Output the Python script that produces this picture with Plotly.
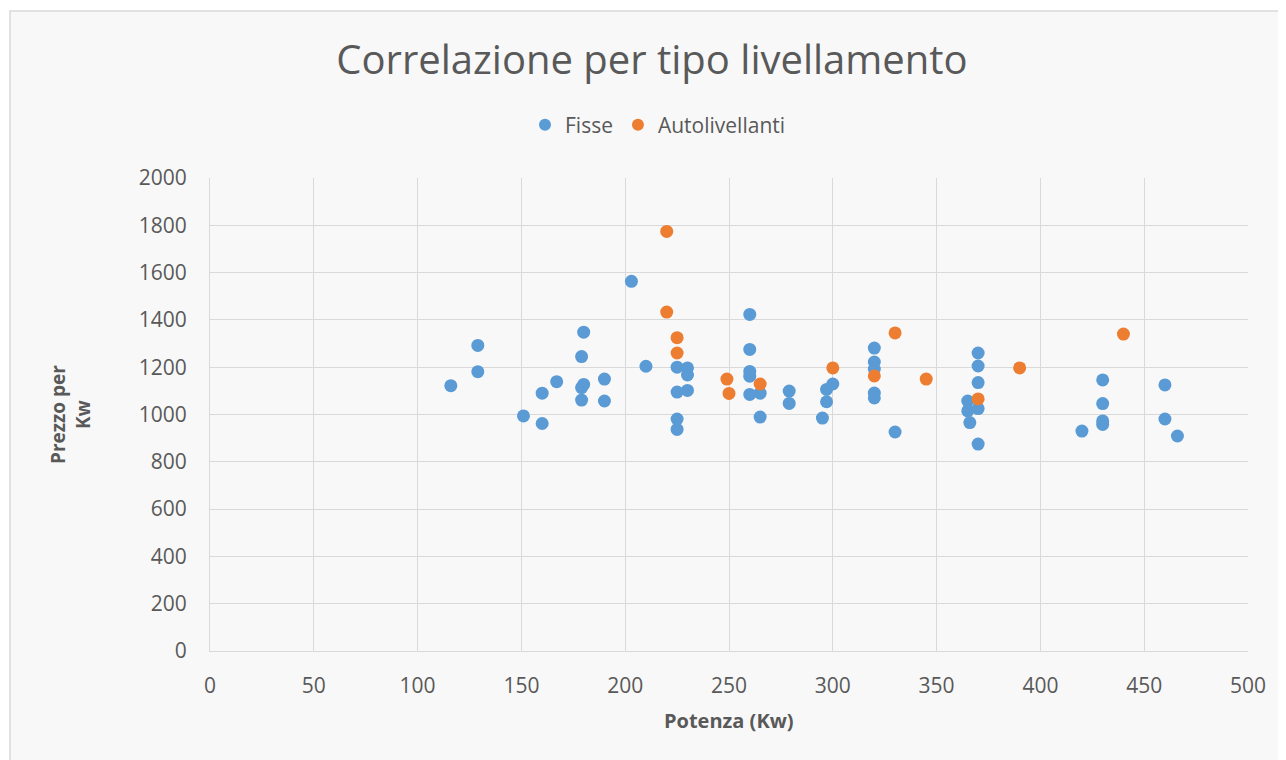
import plotly.graph_objects as go

fisse_x = [116, 129, 129, 151, 160, 160, 167, 179, 180, 179, 180, 179, 190, 190, 203, 210,
           225, 225, 225, 225, 230, 230, 230, 260, 260, 260, 260, 260, 265, 265, 279, 279,
           295, 297, 297, 300, 320, 320, 320, 320, 320, 330, 365, 365, 366, 370, 370, 370,
           370, 370, 420, 430, 430, 430, 430, 460, 460, 466]
fisse_y = [1122, 1181, 1292, 994, 962, 1090, 1139, 1245, 1348, 1114, 1127, 1061, 1150, 1057, 1563, 1204,
           1200, 1095, 981, 937, 1197, 1167, 1102, 1423, 1275, 1182, 1162, 1085, 1090, 989, 1099, 1047,
           985, 1106, 1054, 1129, 1281, 1222, 1192, 1091, 1070, 926, 1057, 1015, 966, 1260, 1205, 1135,
           1025, 875, 930, 1146, 1046, 973, 958, 1125, 981, 909]

auto_x = [220, 220, 225, 225, 249, 250, 265, 300, 320, 330, 345, 370, 390, 440]
auto_y = [1774, 1433, 1325, 1260, 1150, 1089, 1129, 1197, 1163, 1345, 1150, 1066, 1197, 1340]

x_ticks = [0, 50, 100, 150, 200, 250, 300, 350, 400, 450, 500]
y_ticks = [0, 200, 400, 600, 800, 1000, 1200, 1400, 1600, 1800, 2000]

FONT = "Open Sans"
GRAY = "#595959"

fig = go.Figure()
fig.add_trace(go.Scatter(x=fisse_x, y=fisse_y, mode="markers", name="Fisse",
                         marker=dict(color="#5B9BD5", size=13, line=dict(width=0))))
fig.add_trace(go.Scatter(x=auto_x, y=auto_y, mode="markers", name="Autolivellanti",
                         marker=dict(color="#ED7D31", size=13, line=dict(width=0))))

# page body has an 8px margin; work in screen pixel coordinates and shift
OFF = 8
W, H = 1286 - OFF, 760 - OFF
L, R, T, B = 210 - OFF, 38, 178 - OFF, 109
pw, ph = W - L - R, H - T - B

def px2paper_x(px):
    return (px - OFF - L) / pw

def px2paper_y(py):
    return (H - B - (py - OFF)) / ph

fig.update_layout(
    width=W, height=H,
    margin=dict(l=L, r=R, t=T, b=B),
    paper_bgcolor="white",
    plot_bgcolor="rgba(0,0,0,0)",
    font=dict(family=FONT, color=GRAY, size=21),
    title=dict(text="Correlazione per tipo livellamento", x=(652 - OFF) / W, xanchor="center",
               y=1 - (60 - OFF) / H, yanchor="middle",
               font=dict(family=FONT, size=40, color=GRAY)),
    showlegend=True,
    legend=dict(orientation="h", x=px2paper_x(658), xanchor="center",
                y=px2paper_y(125), yanchor="middle",
                font=dict(family=FONT, size=21, color=GRAY),
                bgcolor="rgba(0,0,0,0)", itemsizing="constant"),
    xaxis=dict(range=[0, 500], tickvals=x_ticks, ticktext=[str(v) for v in x_ticks],
               showgrid=True, gridcolor="#d9d9d9", gridwidth=1,
               zeroline=False, showline=True, linecolor="#d9d9d9", mirror=False,
               ticks="", ticklabelstandoff=16,
               tickfont=dict(size=21, color=GRAY), fixedrange=True),
    yaxis=dict(range=[0, 2000], tickvals=y_ticks, ticktext=[str(v) for v in y_ticks],
               showgrid=True, gridcolor="#d9d9d9", gridwidth=1,
               zeroline=False, showline=True, linecolor="#d9d9d9",
               ticks="", ticklabelstandoff=18,
               tickfont=dict(size=21, color=GRAY), fixedrange=True),
    shapes=[
        dict(type="rect", xref="paper", yref="paper", layer="below",
             x0=px2paper_x(10), x1=px2paper_x(1300), y0=px2paper_y(780), y1=px2paper_y(11),
             fillcolor="#f8f8f8", line=dict(color="#d9d9d9", width=1.5)),
    ],
    annotations=[
        dict(text="<b>Potenza (Kw)</b>", xref="paper", yref="paper",
             x=px2paper_x(729), y=px2paper_y(720), xanchor="center", yanchor="middle",
             showarrow=False, font=dict(family=FONT, size=20, color=GRAY)),
        dict(text="<b>Prezzo per<br>Kw</b>", xref="paper", yref="paper",
             x=px2paper_x(70), y=px2paper_y(415), xanchor="center", yanchor="middle",
             textangle=-90, showarrow=False, font=dict(family=FONT, size=19, color=GRAY)),
    ],
)

fig.write_html("out.html")
